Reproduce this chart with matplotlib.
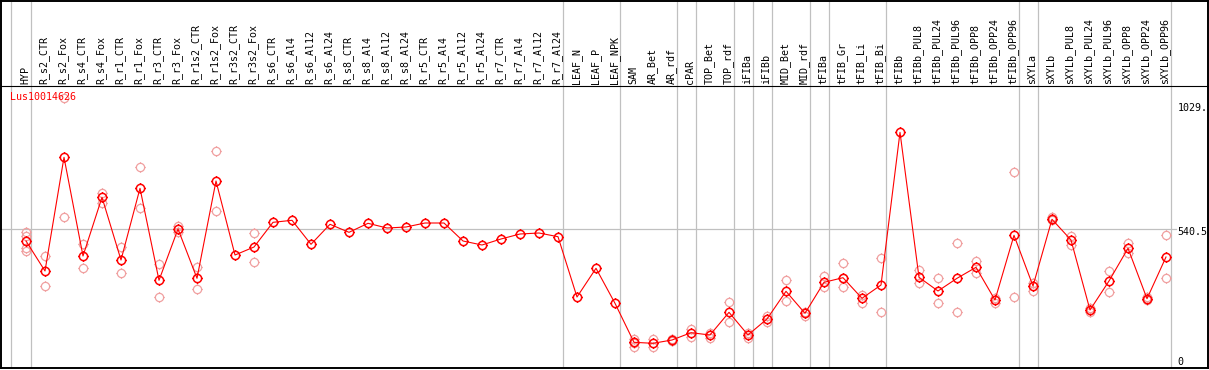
import numpy as np
import matplotlib
matplotlib.use("Agg")
import matplotlib.pyplot as plt
import matplotlib.transforms as mtransforms
from matplotlib.path import Path

# ---------------- data ----------------
gene = "Lus10014626"
labels = ["HYP", "R_s2_CTR", "R_s2_Fox", "R_s4_CTR", "R_s4_Fox", "R_r1_CTR", "R_r1_Fox",
          "R_r3_CTR", "R_r3_Fox", "R_r1s2_CTR", "R_r1s2_Fox", "R_r3s2_CTR", "R_r3s2_Fox",
          "R_s6_CTR", "R_s6_Al4", "R_s6_Al12", "R_s6_Al24", "R_s8_CTR", "R_s8_Al4",
          "R_s8_Al12", "R_s8_Al24", "R_r5_CTR", "R_r5_Al4", "R_r5_Al12", "R_r5_Al24",
          "R_r7_CTR", "R_r7_Al4", "R_r7_Al12", "R_r7_Al24", "LEAF_N", "LEAF_P", "LEAF_NPK",
          "SAM", "AR_Bet", "AR_rdf", "cPAR", "TOP_Bet", "TOP_rdf", "iFIBa", "iFIBb",
          "MID_Bet", "MID_rdf", "tFIBa", "tFIB_Gr", "tFIB_Li", "tFIB_Bi", "tFIBb",
          "tFIBb_PUL8", "tFIBb_PUL24", "tFIBb_PUL96", "tFIBb_OPP8", "tFIBb_OPP24",
          "tFIBb_OPP96", "sXYLa", "sXYLb", "sXYLb_PUL8", "sXYLb_PUL24", "sXYLb_PUL96",
          "sXYLb_OPP8", "sXYLb_OPP24", "sXYLb_OPP96"]

means = [494.5, 376.3, 824.2, 435.4, 666.6, 419.6, 702.1, 339.6, 541.8, 347.5,
         730.9, 439.3, 470.8, 568.1, 576.0, 481.5, 560.3, 528.7, 564.2, 545.7,
         549.6, 565.4, 565.4, 494.5, 478.7, 502.4, 522.1, 526.0, 511.4, 273.8,
         386.9, 249.0, 95.3, 91.4, 104.4, 133.2, 124.1, 213.5, 124.1, 187.2,
         296.3, 209.6, 331.7, 349.9, 268.7, 321.1, 922.7, 351.4, 297.5, 347.5,
         390.8, 262.0, 516.9, 317.2, 580.0, 498.4, 222.6, 336.9, 465.7, 267.1,
         431.4]

replicates = [
    [531.1, 515.4, 465.7, 455.1], [435.4, 317.2], [1056.7, 589.0], [482.7, 386.9],
    [684.8, 645.4], [469.6, 368.4], [784.8, 623.3], [403.9, 272.6], [553.6, 529.9],
    [393.2, 304.2], [849.1, 612.7], [], [524.8, 410.5],
    [], [], [], [], [], [], [], [], [], [], [], [], [], [], [], [], [], [], [],
    [109.5, 91.4, 75.6], [107.2, 75.6], [107.2, 100.5], [146.6, 117.4], [133.2, 111.1],
    [252.9, 174.1], [130.8, 111.1], [199.0, 176.5], [339.6, 256.9], [215.9, 199.0],
    [356.6, 314.4], [406.6, 349.9, 312.0], [281.7, 251.4], [426.3, 213.5], [],
    [380.2, 327.8], [347.5, 249.0], [485.4, 213.5], [414.5, 369.6], [268.7, 249.0],
    [765.1, 272.6], [330.2, 297.5], [590.2, 577.2], [515.4, 478.7], [229.3, 215.9],
    [376.3, 293.5], [485.4, 446.0], [273.8, 262.0], [516.9, 347.5],
]

# group boundaries: separator drawn after these label indices
separators_after = [-1, 0, 28, 31, 34, 35, 37, 38, 39, 41, 42, 45, 52, 53, 60]
axis_ticks = [(1029, "1029."), (540.5, "540.5"), (0, "0")]
grid_value = 540.5

# ---------------- layout ----------------
W, H = 1209, 370
X0, DX = 26.0, 19.0          # pixel x of first column, column spacing
V0_PX, PX_PER_UNIT = 366.5, 0.2538
LABEL_BOTTOM = 83.5
PLOT_BOTTOM = 368.0

fig = plt.figure(figsize=(W / 100, H / 100), dpi=100)
ax = fig.add_axes([0, 0, 1, 1])
ax.set_xlim((0 - X0) / DX, (W - X0) / DX)
ax.set_ylim((V0_PX - H) / PX_PER_UNIT, V0_PX / PX_PER_UNIT)
ax.axis("off")

# pixel (top-left origin) transform
P = mtransforms.Affine2D().scale(1 / W, -1 / H).translate(0, 1) + fig.transFigure
xdata_ypix = mtransforms.blended_transform_factory(ax.transData, P)

mono = "DejaVu Sans Mono"
FS = 7.2
RED = "#ff0000"
PALE = "#f0a0a0"
GREY = "#c0c0c0"

# separators
for s in separators_after:
    off = 0.2 if s < 0 else 0.24
    ax.plot([s + off, s + off], [0, PLOT_BOTTOM], color=GREY, lw=0.9,
            transform=xdata_ypix, zorder=1, solid_capstyle="butt")

# horizontal mid grid line
ax.axhline(grid_value, xmin=1 / W, xmax=1176 / W, color=GREY, lw=0.9, zorder=1)

# frame
def pline(xs, ys, lw):
    fig.add_artist(plt.Line2D(xs, ys, color="black", lw=lw, transform=P,
                              solid_capstyle="projecting"))

pline([0.8, 0.8], [0.5, PLOT_BOTTOM], 1.4)
pline([1208.3, 1208.3], [0.5, PLOT_BOTTOM], 1.4)
pline([0.8, 1208.3], [0.8, 0.8], 1.4)
pline([0.8, 1208.3], [PLOT_BOTTOM, PLOT_BOTTOM], 1.4)
pline([0.8, 1208.3], [85.5, 85.5], 0.8)

# marker: circle (polygon) with four tiny ticks
th = np.linspace(0, 2 * np.pi, 41)
circ_v = np.column_stack([np.cos(th), np.sin(th)])
circ = Path(circ_v, [Path.MOVETO] + [Path.LINETO] * 39 + [Path.CLOSEPOLY])
T = 1.25
ticks = [Path([[0, 1], [0, T]], [Path.MOVETO, Path.LINETO]),
         Path([[0, -1], [0, -T]], [Path.MOVETO, Path.LINETO]),
         Path([[1, 0], [T, 0]], [Path.MOVETO, Path.LINETO]),
         Path([[-1, 0], [-T, 0]], [Path.MOVETO, Path.LINETO])]
mk = Path.make_compound_path(circ, *ticks)
MS = 7.4

# replicates
for i, reps in enumerate(replicates):
    if reps:
        ax.plot([i] * len(reps), reps, ls="none", marker=mk, ms=MS,
                mfc="none", mec=PALE, mew=0.9, zorder=3)

# mean line
xs = np.arange(len(means))
ax.plot(xs, means, color=RED, lw=0.8, zorder=4)
ax.plot(xs, means, ls="none", marker=mk, ms=MS, mfc="none", mec=RED, mew=1.1, zorder=5)

# column labels
for i, lab in enumerate(labels):
    ax.text(i - 0.05, LABEL_BOTTOM, lab, rotation=90, ha="center", va="bottom",
            fontsize=FS, family=mono, color="black", transform=xdata_ypix)

# gene name
ax.text(10, 97.5, gene, ha="left", va="center", fontsize=FS, family=mono,
        color=RED, transform=P, zorder=6)

# y tick labels
for val, txt in axis_ticks:
    dy = 4.8 if val == 0 else -2.4
    tr = mtransforms.offset_copy(ax.transData, fig=fig, x=0, y=dy, units="dots")
    xpix_tr = mtransforms.blended_transform_factory(P, tr)
    ax.text(1177.5, val, txt, ha="left", va="center", fontsize=FS, family=mono,
            color="black", transform=xpix_tr)

fig.savefig("out.png", dpi=100, facecolor="white")
